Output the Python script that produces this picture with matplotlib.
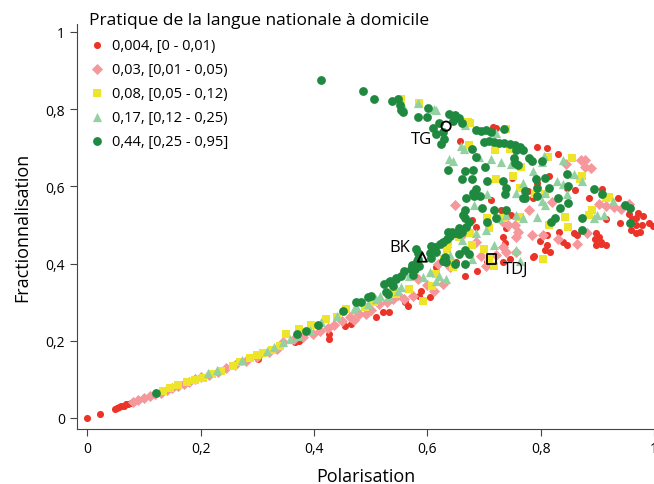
import numpy as np
import matplotlib.pyplot as plt

plt.rcParams['font.family'] = ['Open Sans', 'DejaVu Sans']

# group labels (share of national language spoken at home)
labels = ["0,004, [0 - 0,01)", "0,03, [0,01 - 0,05)", "0,08, [0,05 - 0,12)",
          "0,17, [0,12 - 0,25)", "0,44, [0,25 - 0,95]"]

# (polarisation, fractionnalisation)
red_pts = [
    (0.000, 0.000), (0.022, 0.010), (0.048, 0.024), (0.052, 0.026), (0.056, 0.028),
    (0.060, 0.030), (0.064, 0.032), (0.068, 0.035), (0.072, 0.037), (0.076, 0.040),
    (0.080, 0.042), (0.301, 0.153), (0.366, 0.196), (0.374, 0.200), (0.427, 0.205),
    (0.427, 0.218), (0.466, 0.244), (0.510, 0.261), (0.521, 0.275), (0.533, 0.275),
    (0.565, 0.291), (0.586, 0.317), (0.604, 0.313), (0.589, 0.330), (0.615, 0.390),
    (0.650, 0.403), (0.667, 0.368), (0.688, 0.381), (0.706, 0.403), (0.733, 0.403),
    (0.745, 0.412), (0.787, 0.416), (0.816, 0.430), (0.811, 0.449), (0.897, 0.449),
    (0.915, 0.449), (0.906, 0.452), (0.903, 0.469), (0.846, 0.449), (0.864, 0.474),
    (0.832, 0.482), (0.811, 0.474), (0.733, 0.469), (0.739, 0.491), (0.685, 0.495),
    (0.679, 0.513), (0.748, 0.526), (0.730, 0.540), (0.712, 0.566), (0.750, 0.623),
    (0.778, 0.588), (0.787, 0.570), (0.793, 0.610), (0.814, 0.627), (0.846, 0.596),
    (0.885, 0.570), (0.909, 0.592), (0.936, 0.570), (0.721, 0.752), (0.658, 0.718),
    (0.715, 0.755), (0.794, 0.701), (0.811, 0.699), (0.830, 0.684), (0.737, 0.454),
    (0.799, 0.459), (0.808, 0.435), (0.839, 0.457), (0.858, 0.480), (0.788, 0.420),
    (0.898, 0.480), (0.895, 0.465), (0.907, 0.456), (0.915, 0.515), (0.940, 0.505),
    (0.955, 0.528), (0.962, 0.515), (0.968, 0.499), (0.960, 0.487), (0.972, 0.531),
    (0.980, 0.524), (0.992, 0.505), (0.999, 0.498), (0.969, 0.517), (0.978, 0.500),
    (0.975, 0.482), (0.969, 0.478), (0.560, 0.300), (0.455, 0.238), (0.860, 0.590),
]

pink_pts = [
    (0.080, 0.041), (0.090, 0.046), (0.100, 0.051), (0.110, 0.056), (0.120, 0.061),
    (0.130, 0.066), (0.140, 0.072), (0.150, 0.077), (0.160, 0.083), (0.170, 0.088),
    (0.180, 0.094), (0.190, 0.100), (0.200, 0.105), (0.215, 0.112), (0.230, 0.120),
    (0.245, 0.129), (0.260, 0.137), (0.280, 0.147), (0.300, 0.158), (0.320, 0.170),
    (0.335, 0.180), (0.345, 0.196), (0.380, 0.210), (0.398, 0.218), (0.410, 0.225),
    (0.436, 0.240), (0.450, 0.250), (0.463, 0.261), (0.480, 0.270), (0.492, 0.269),
    (0.500, 0.280), (0.515, 0.295), (0.539, 0.308), (0.559, 0.308), (0.574, 0.317),
    (0.583, 0.360), (0.612, 0.330), (0.627, 0.347), (0.618, 0.399), (0.633, 0.442),
    (0.649, 0.551), (0.760, 0.482), (0.757, 0.469), (0.784, 0.473), (0.804, 0.473),
    (0.831, 0.465), (0.879, 0.668), (0.888, 0.647), (0.864, 0.451), (0.882, 0.478),
    (0.733, 0.443), (0.739, 0.430), (0.757, 0.430), (0.721, 0.421), (0.685, 0.456),
    (0.703, 0.393), (0.661, 0.473), (0.733, 0.509), (0.742, 0.500), (0.754, 0.500),
    (0.903, 0.554), (0.915, 0.550), (0.929, 0.546), (0.941, 0.541), (0.956, 0.554),
    (0.844, 0.658), (0.871, 0.669), (0.878, 0.649), (0.365, 0.205), (0.425, 0.232),
    (0.470, 0.255), (0.528, 0.300), (0.548, 0.318), (0.600, 0.345), (0.640, 0.390),
    (0.695, 0.420), (0.780, 0.540), (0.820, 0.560),
]

yellow_pts = [
    (0.133, 0.071), (0.145, 0.077), (0.160, 0.085), (0.175, 0.092), (0.190, 0.099),
    (0.204, 0.104), (0.220, 0.114), (0.235, 0.123), (0.257, 0.136), (0.270, 0.144),
    (0.286, 0.155), (0.300, 0.162), (0.310, 0.168), (0.325, 0.177), (0.340, 0.186),
    (0.351, 0.218), (0.374, 0.231), (0.421, 0.256), (0.457, 0.282), (0.489, 0.287),
    (0.533, 0.321), (0.568, 0.334), (0.592, 0.304), (0.615, 0.373), (0.630, 0.412),
    (0.609, 0.343), (0.554, 0.826), (0.586, 0.816), (0.676, 0.763), (0.739, 0.748),
    (0.673, 0.706), (0.720, 0.695), (0.745, 0.697), (0.766, 0.651), (0.813, 0.675),
    (0.855, 0.674), (0.721, 0.618), (0.751, 0.627), (0.763, 0.596), (0.790, 0.579),
    (0.808, 0.579), (0.870, 0.618), (0.873, 0.627), (0.921, 0.572), (0.915, 0.570),
    (0.733, 0.517), (0.763, 0.522), (0.814, 0.500), (0.843, 0.522), (0.849, 0.495),
    (0.885, 0.526), (0.891, 0.540), (0.706, 0.517), (0.709, 0.491), (0.676, 0.478),
    (0.655, 0.469), (0.637, 0.456), (0.634, 0.438), (0.679, 0.447), (0.700, 0.438),
    (0.709, 0.412), (0.718, 0.394), (0.646, 0.390), (0.804, 0.412), (0.640, 0.403),
    (0.671, 0.768), (0.395, 0.240), (0.440, 0.262), (0.505, 0.300), (0.545, 0.322),
]

tri_pts = [
    (0.213, 0.117), (0.228, 0.125), (0.272, 0.149), (0.316, 0.174), (0.330, 0.185),
    (0.345, 0.198), (0.357, 0.205), (0.371, 0.213), (0.392, 0.229), (0.412, 0.248),
    (0.441, 0.263), (0.471, 0.282), (0.474, 0.291), (0.495, 0.295), (0.510, 0.308),
    (0.516, 0.317), (0.533, 0.313), (0.548, 0.330), (0.554, 0.339), (0.559, 0.377),
    (0.568, 0.369), (0.592, 0.365), (0.604, 0.377), (0.615, 0.356), (0.621, 0.369),
    (0.633, 0.360), (0.557, 0.807), (0.616, 0.798), (0.667, 0.759), (0.721, 0.739),
    (0.664, 0.697), (0.646, 0.666), (0.691, 0.675), (0.712, 0.671), (0.730, 0.662),
    (0.748, 0.658), (0.787, 0.640), (0.802, 0.662), (0.805, 0.679), (0.839, 0.668),
    (0.858, 0.631), (0.873, 0.614), (0.840, 0.605), (0.828, 0.614), (0.808, 0.583),
    (0.769, 0.610), (0.757, 0.583), (0.706, 0.579), (0.682, 0.552), (0.727, 0.519),
    (0.739, 0.526), (0.757, 0.526), (0.769, 0.517), (0.793, 0.522), (0.802, 0.561),
    (0.808, 0.552), (0.846, 0.579), (0.894, 0.517), (0.912, 0.526), (0.899, 0.526),
    (0.703, 0.487), (0.685, 0.478), (0.661, 0.461), (0.640, 0.421), (0.679, 0.412),
    (0.718, 0.447), (0.757, 0.434), (0.763, 0.408), (0.927, 0.562), (0.583, 0.815),
    (0.611, 0.800), (0.639, 0.671), (0.659, 0.705),
]

green_pts = [
    (0.412, 0.875), (0.487, 0.848), (0.506, 0.826), (0.538, 0.820), (0.549, 0.826),
    (0.552, 0.811), (0.554, 0.798), (0.557, 0.794), (0.583, 0.781), (0.601, 0.804),
    (0.600, 0.781), (0.610, 0.750), (0.638, 0.788), (0.649, 0.785), (0.655, 0.776),
    (0.661, 0.763), (0.628, 0.741), (0.630, 0.724), (0.624, 0.709), (0.685, 0.746),
    (0.694, 0.744), (0.703, 0.746), (0.712, 0.741), (0.736, 0.748), (0.700, 0.715),
    (0.709, 0.717), (0.718, 0.715), (0.727, 0.712), (0.736, 0.712), (0.745, 0.711),
    (0.755, 0.708), (0.763, 0.702), (0.769, 0.693), (0.757, 0.693), (0.678, 0.697),
    (0.685, 0.677), (0.702, 0.651), (0.753, 0.673), (0.754, 0.660), (0.760, 0.656),
    (0.779, 0.673), (0.785, 0.667), (0.637, 0.642), (0.667, 0.639), (0.680, 0.642),
    (0.661, 0.618), (0.678, 0.618), (0.706, 0.614), (0.733, 0.614), (0.739, 0.596),
    (0.737, 0.579), (0.772, 0.588), (0.773, 0.570), (0.793, 0.596), (0.791, 0.618),
    (0.808, 0.623), (0.803, 0.665), (0.685, 0.593), (0.680, 0.584), (0.682, 0.575),
    (0.668, 0.570), (0.693, 0.575), (0.697, 0.544), (0.667, 0.539), (0.662, 0.526),
    (0.666, 0.517), (0.673, 0.509), (0.669, 0.495), (0.655, 0.491), (0.661, 0.482),
    (0.637, 0.481), (0.643, 0.483), (0.649, 0.480), (0.655, 0.477), (0.640, 0.472),
    (0.635, 0.463), (0.628, 0.456), (0.622, 0.452), (0.613, 0.443), (0.610, 0.436),
    (0.604, 0.427), (0.607, 0.414), (0.583, 0.427), (0.581, 0.408), (0.572, 0.396),
    (0.578, 0.387), (0.559, 0.382), (0.554, 0.368), (0.534, 0.355), (0.545, 0.360),
    (0.631, 0.416), (0.632, 0.403), (0.655, 0.425), (0.667, 0.434), (0.673, 0.425),
    (0.666, 0.399), (0.649, 0.399), (0.706, 0.509), (0.721, 0.517), (0.718, 0.540),
    (0.739, 0.540), (0.769, 0.570), (0.793, 0.575), (0.814, 0.596), (0.831, 0.570),
    (0.834, 0.544), (0.849, 0.557), (0.873, 0.517), (0.873, 0.487), (0.894, 0.592),
    (0.909, 0.579), (0.826, 0.517), (0.819, 0.509), (0.846, 0.632), (0.849, 0.601),
    (0.948, 0.552), (0.957, 0.544), (0.957, 0.504), (0.121, 0.064), (0.370, 0.218),
    (0.386, 0.226), (0.407, 0.241), (0.451, 0.278), (0.474, 0.301), (0.483, 0.300),
    (0.495, 0.313), (0.501, 0.315), (0.527, 0.326), (0.530, 0.321), (0.524, 0.347),
    (0.533, 0.352), (0.545, 0.362), (0.539, 0.343), (0.571, 0.386), (0.574, 0.370),
    (0.586, 0.395), (0.583, 0.412), (0.580, 0.438), (0.607, 0.446), (0.615, 0.429),
    (0.627, 0.408), (0.620, 0.765), (0.645, 0.770), (0.615, 0.735),
]

# highlighted countries: name, point, label position
highlight_names = ["TG", "BK", "TDJ"]
highlight_pts = [(0.633, 0.756), (0.591, 0.417), (0.713, 0.412)]
highlight_text = [(0.590, 0.723), (0.551, 0.443), (0.755, 0.386)]
highlight_marker = ["o", "^", "s"]

groups = [red_pts, pink_pts, yellow_pts, tri_pts, green_pts]
colors = ["#ec3328", "#f5979b", "#eee52a", "#93d1a2", "#1f8a3f"]
markers = ["o", "D", "s", "^", "o"]
sizes = [26, 32, 36, 44, 40]

fig = plt.figure(figsize=(6.54, 4.85), dpi=100)
ax = fig.add_axes([77 / 654, 55 / 485, 577 / 654, 405 / 485])

for pts, c, m, s, lab in zip(groups, colors, markers, sizes, labels):
    xs, ys = zip(*pts)
    ax.scatter(xs, ys, s=s, c=c, marker=m, linewidths=0, label=lab, zorder=2)

for name, p, t, m in zip(highlight_names, highlight_pts, highlight_text, highlight_marker):
    ax.scatter([p[0]], [p[1]], s=45, marker=m, facecolors="none",
               edgecolors="black", linewidths=1.3, zorder=4)
    ax.text(t[0], t[1], name, fontsize=12, ha="center", va="center", zorder=5)

ax.set_xlim(-0.0185, 1.0)
ax.set_ylim(-0.0285, 1.0207)
ticks = [0, 0.2, 0.4, 0.6, 0.8, 1]
tick_labels = ["0", "0,2", "0,4", "0,6", "0,8", "1"]
ax.set_xticks(ticks)
ax.set_xticklabels(tick_labels)
ax.set_yticks(ticks)
ax.set_yticklabels(tick_labels)
ax.tick_params(labelsize=10, length=5, color="#444444")
for side in ["top", "right"]:
    ax.spines[side].set_visible(False)
for side in ["left", "bottom"]:
    ax.spines[side].set_color("#444444")

ax.set_xlabel("Polarisation", fontsize=13, labelpad=8)
ax.set_ylabel("Fractionnalisation", fontsize=13, labelpad=10)

leg = ax.legend(title="Pratique de la langue nationale à domicile", loc="upper left",
                bbox_to_anchor=(0.005, 1.05), frameon=False, fontsize=10.5,
                title_fontsize=12.5, handletextpad=0.4, labelspacing=0.62,
                borderaxespad=0.2, handlelength=1.2)
leg._legend_box.align = "left"

fig.savefig("out.png", dpi=100)
